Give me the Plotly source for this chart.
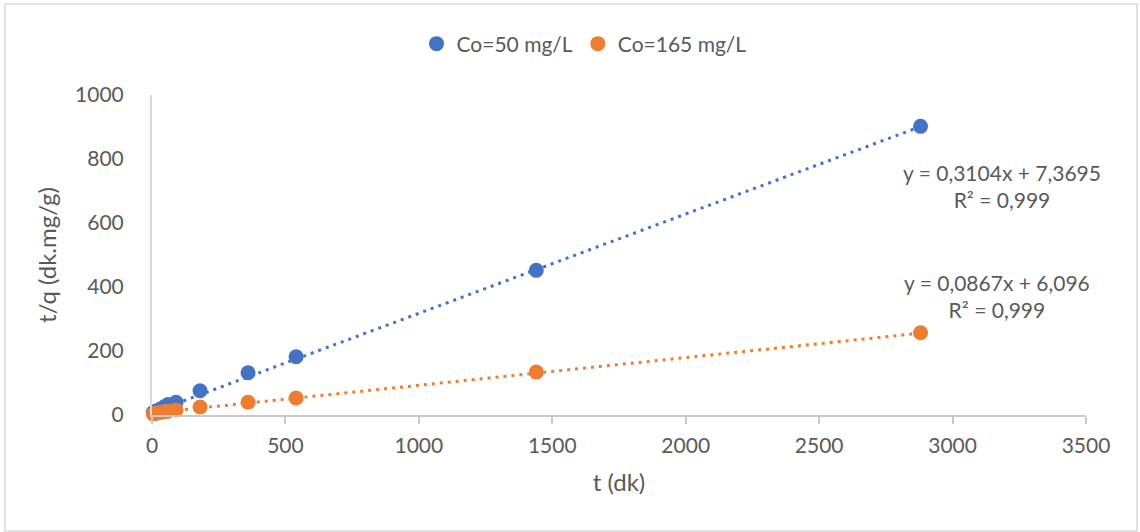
import plotly.graph_objects as go
import numpy as np

# ---- data ----
t_min = [5, 10, 15, 30, 45, 60, 90, 180, 360, 540, 1440, 2880]
tq_50 = [8, 10, 12, 18, 25, 33, 40, 76, 132, 182, 452, 902]
tq_165 = [3, 5, 6, 8, 10, 12, 16, 25, 40, 53, 134, 257]
series_names = ["Co=50 mg/L", "Co=165 mg/L"]
slopes = [0.3104, 0.0867]
intercepts = [7.3695, 6.096]
eq_labels = ["y = 0,3104x + 7,3695<br>R² = 0,999", "y = 0,0867x + 6,096<br>R² = 0,999"]
x_ticks = [0, 500, 1000, 1500, 2000, 2500, 3000, 3500]
y_ticks = [0, 200, 400, 600, 800, 1000]

colors = ["#4472C4", "#ED7D31"]
txt = "#595959"
FONT = "Lato"

W, H = 1140, 532
L, R, T, B = 152, 54, 95, 117
pw, ph = W - L - R, H - T - B
def px(x):
    return (x - L) / pw
def py(y):
    return (H - B - y) / ph

fig = go.Figure()
for name, vals, col, m, b in zip(series_names, [tq_50, tq_165], colors, slopes, intercepts):
    xs = np.array([t_min[0], t_min[-1]], dtype=float)
    fig.add_trace(go.Scatter(x=xs, y=m * xs + b, mode="lines",
                             line=dict(color=col, width=3, dash="3px,5px"),
                             showlegend=False, hoverinfo="skip", cliponaxis=False))
for name, vals, col in zip(series_names, [tq_50, tq_165], colors):
    fig.add_trace(go.Scatter(x=t_min, y=vals, mode="markers", name=name,
                             marker=dict(color=col, size=15, line=dict(width=0)),
                             cliponaxis=False))

# annotations for equations
ann_pos = [(1002, 186), (997, 296)]
for lab, (ax_, ay_) in zip(eq_labels, ann_pos):
    fig.add_annotation(x=px(ax_), y=py(ay_), xref="paper", yref="paper", text=lab,
                       showarrow=False, align="center", xanchor="center", yanchor="middle",
                       font=dict(family=FONT, size=21, color=txt))

fig.update_layout(
    width=W, height=H,
    margin=dict(l=L, r=R, t=T, b=B),
    paper_bgcolor="white", plot_bgcolor="white",
    font=dict(family=FONT, color=txt, size=21),
    legend=dict(orientation="h", x=px(584), y=py(44), xanchor="center", yanchor="middle",
                font=dict(family=FONT, size=21, color=txt),
                itemwidth=30, bgcolor="rgba(0,0,0,0)"),
    xaxis=dict(range=[0, 3500], tickvals=x_ticks, showgrid=False, zeroline=False,
               showline=True, linecolor="#c8c8c8", linewidth=2,
               ticks="outside", ticklen=7, tickwidth=2, tickcolor="#c8c8c8",
               ticklabelstandoff=4,
               tickfont=dict(family=FONT, size=21, color=txt),
               title=dict(text="t (dk)", font=dict(family=FONT, size=24, color=txt), standoff=18)),
    xaxis2=dict(range=[0, 3500], tickvals=x_ticks, overlaying="x", anchor="y", side="bottom",
                showgrid=False, zeroline=False, showline=False, showticklabels=False,
                ticks="inside", ticklen=7, tickwidth=2, tickcolor="#c8c8c8"),
    yaxis=dict(range=[0, 1000], tickvals=y_ticks, showgrid=False, zeroline=False,
               showline=True, linecolor="#d9d9d9", linewidth=2, ticks="",
               ticklabelstandoff=22,
               tickfont=dict(family=FONT, size=21, color=txt),
               title=dict(text="t/q (dk.mg/g)", font=dict(family=FONT, size=24, color=txt), standoff=12)),
    shapes=[dict(type="rect", xref="paper", yref="paper",
                 x0=px(5), x1=px(1137), y0=py(531), y1=py(4),
                 line=dict(color="#d9d9d9", width=1.5), fillcolor="rgba(0,0,0,0)", layer="below")],
)
fig.write_html("out.html")
